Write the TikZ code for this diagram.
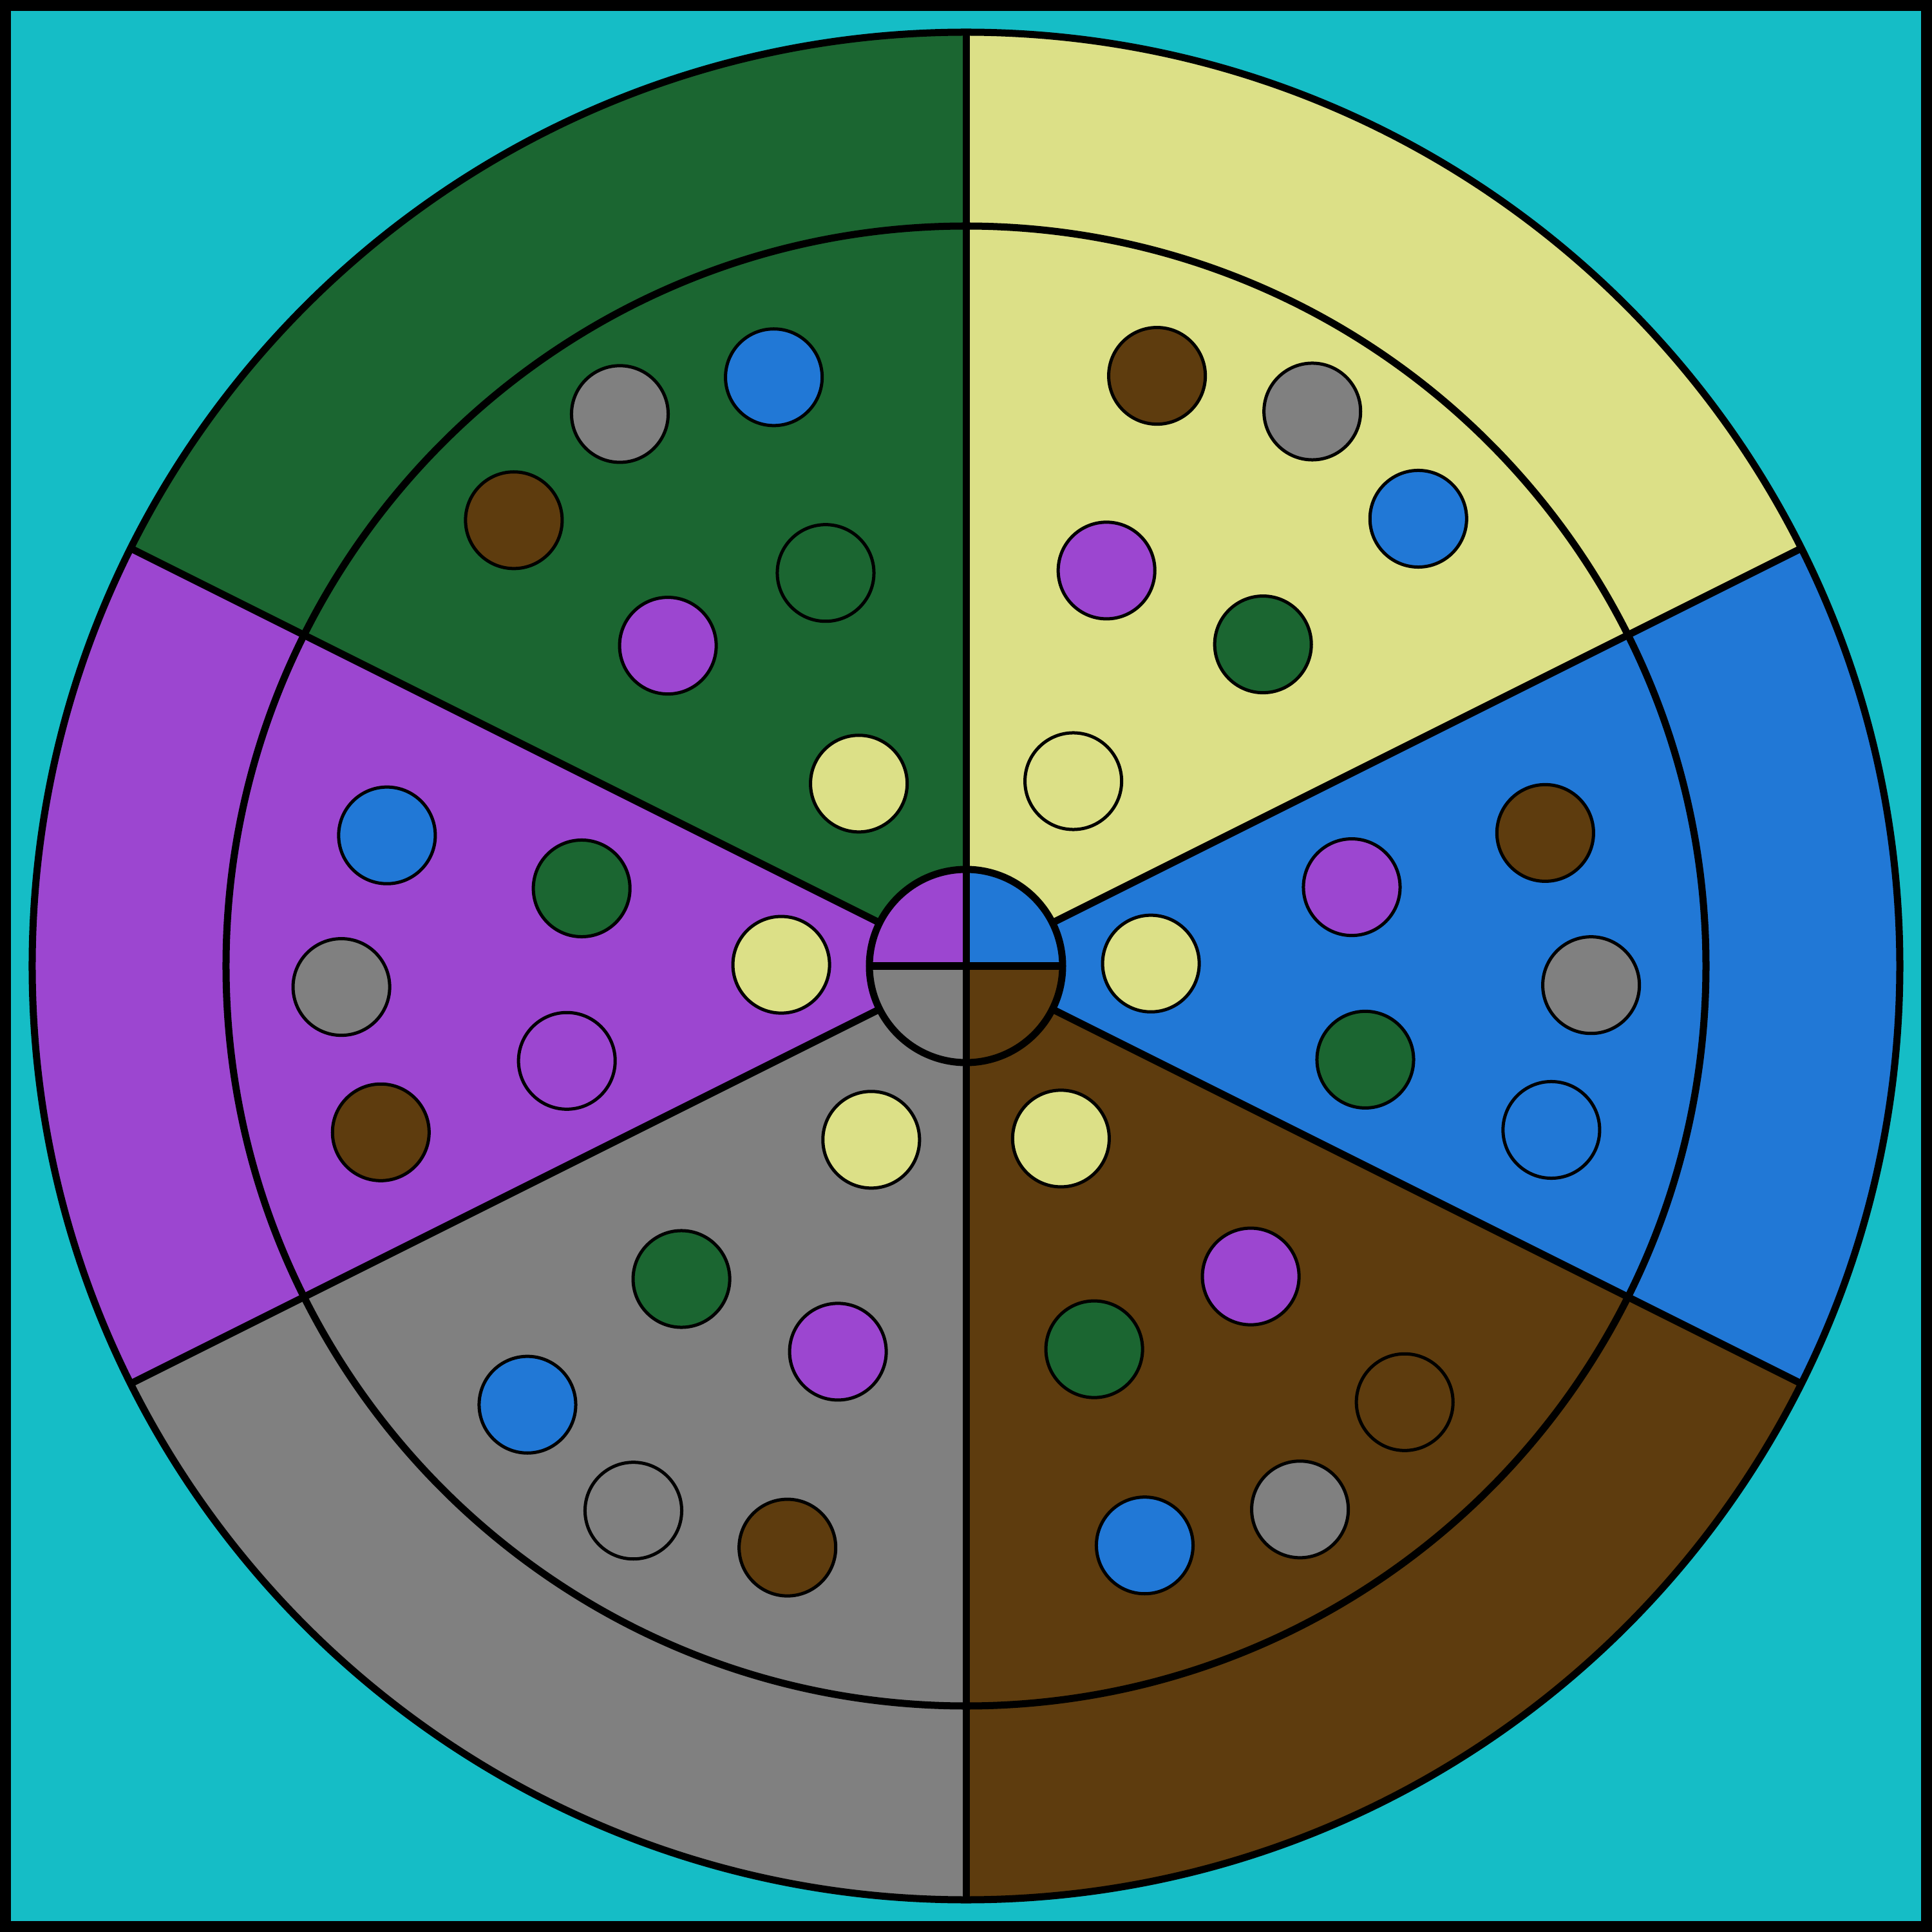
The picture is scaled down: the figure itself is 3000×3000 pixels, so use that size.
\documentclass[tikz,border=0pt]{standalone}
\definecolor{bgcyan}{RGB}{21,189,198}
\definecolor{cgreen}{RGB}{27,102,49}
\definecolor{cyellow}{RGB}{220,224,135}
\definecolor{cblue}{RGB}{33,120,214}
\definecolor{cpurple}{RGB}{156,70,208}
\definecolor{cgray}{RGB}{128,128,128}
\definecolor{cbrown}{RGB}{94,60,14}
\tikzset{
  thickline/.style={line width=0.11cm, draw=black},
  dot/.style={circle, draw=black, line width=0.05cm, minimum size=1.5cm, inner sep=0pt},
}
\begin{document}
\begin{tikzpicture}[x=0.01cm,y=0.01cm]
\useasboundingbox (-1500,-1500) rectangle (1500,1500);
\fill[black] (-1500,-1500) rectangle (1500,1500);
\fill[bgcyan] (-1483,-1483) rectangle (1483,1483);
\def\a{26.565}
% sectors
\fill[cblue] (0,0) -- (-\a:1450) arc[start angle=-\a, end angle=\a, radius=1450] -- cycle;
\fill[cyellow] (0,0) -- (\a:1450) arc[start angle=\a, end angle=90, radius=1450] -- cycle;
\fill[cgreen] (0,0) -- (90:1450) arc[start angle=90, end angle=180-\a, radius=1450] -- cycle;
\fill[cpurple] (0,0) -- (180-\a:1450) arc[start angle=180-\a, end angle=180+\a, radius=1450] -- cycle;
\fill[cgray] (0,0) -- (180+\a:1450) arc[start angle=180+\a, end angle=270, radius=1450] -- cycle;
\fill[cbrown] (0,0) -- (270:1450) arc[start angle=270, end angle=360-\a, radius=1450] -- cycle;
% rings
\draw[thickline] (0,0) circle[radius=1149];
\draw[thickline] (0,0) circle[radius=1450];
% dividers
\coordinate (top) at (90:1450);
\coordinate (bot) at (270:1450);
\draw[thickline] (top) -- (bot);
\foreach \ang in {\a, 180-\a, 180+\a, -\a} {
  \draw[thickline] (\ang:150) -- (\ang:1450);
}
% center hub
\fill[cpurple] (0,0) -- (90:150) arc[start angle=90, end angle=180, radius=150] -- cycle;
\fill[cblue] (0,0) -- (0:150) arc[start angle=0, end angle=90, radius=150] -- cycle;
\fill[cgray] (0,0) -- (180:150) arc[start angle=180, end angle=270, radius=150] -- cycle;
\fill[cbrown] (0,0) -- (270:150) arc[start angle=270, end angle=360, radius=150] -- cycle;
\draw[thickline] (0,0) circle[radius=150];
\draw[thickline] (180:150) -- (0:150);
\draw[thickline] (90:150) -- (270:150);
% dots: positions in image pixels, shifted to centre origin
\def\dx{-1498}
% green sector dots
\node[dot, fill=cblue]   (g1) at (1199.6+\dx, 1500-585.8) {};
\node[dot, fill=cgray]   (g2) at (960.5+\dx, 1500-642.9) {};
\node[dot, fill=cbrown]  (g3) at (795.9+\dx, 1500-807.8) {};
\node[dot, fill=cgreen]  (g4) at (1280.0+\dx, 1500-889.7) {};
\node[dot, fill=cpurple] (g5) at (1035.1+\dx, 1500-1002.6) {};
\node[dot, fill=cyellow] (g6) at (1331.6+\dx, 1500-1216.8) {};
% yellow sector dots
\node[dot, fill=cbrown]  (y1) at (1794.6+\dx, 1500-583.6) {};
\node[dot, fill=cgray]   (y2) at (2035.7+\dx, 1500-639.0) {};
\node[dot, fill=cblue]   (y3) at (2200.3+\dx, 1500-805.5) {};
\node[dot, fill=cpurple] (y4) at (1716.2+\dx, 1500-885.9) {};
\node[dot, fill=cgreen]  (y5) at (1959.2+\dx, 1500-1000.6) {};
\node[dot, fill=cyellow] (y6) at (1664.6+\dx, 1500-1213.0) {};
% blue sector dots
\node[dot, fill=cbrown]  (b1) at (2397.4+\dx, 1500-1293.4) {};
\node[dot, fill=cpurple] (b2) at (2097.0+\dx, 1500-1377.6) {};
\node[dot, fill=cgray]   (b3) at (2468.6+\dx, 1500-1529.7) {};
\node[dot, fill=cyellow] (b4) at (1785.1+\dx, 1500-1496.2) {};
\node[dot, fill=cgreen]  (b5) at (2118.0+\dx, 1500-1645.4) {};
\node[dot, fill=cblue]   (b6) at (2406.9+\dx, 1500-1754.5) {};
% purple sector dots
\node[dot, fill=cblue]   (p1) at (598.9+\dx, 1500-1297.2) {};
\node[dot, fill=cgreen]  (p2) at (901.2+\dx, 1500-1379.5) {};
\node[dot, fill=cgray]   (p3) at (528.1+\dx, 1500-1532.6) {};
\node[dot, fill=cyellow] (p4) at (1211.1+\dx, 1500-1498.1) {};
\node[dot, fill=cpurple] (p5) at (878.2+\dx, 1500-1647.3) {};
\node[dot, fill=cbrown]  (p6) at (589.3+\dx, 1500-1758.3) {};
% gray sector dots
\node[dot, fill=cyellow] (r1) at (1350.8+\dx, 1500-1769.8) {};
\node[dot, fill=cgreen]  (r2) at (1056.1+\dx, 1500-1986.0) {};
\node[dot, fill=cpurple] (r3) at (1299.1+\dx, 1500-2098.9) {};
\node[dot, fill=cblue]   (r4) at (817.0+\dx, 1500-2181.2) {};
\node[dot, fill=cgray]   (r5) at (981.5+\dx, 1500-2345.7) {};
\node[dot, fill=cbrown]  (r6) at (1220.7+\dx, 1500-2403.1) {};
% brown sector dots
\node[dot, fill=cyellow] (n1) at (1645.4+\dx, 1500-1767.9) {};
\node[dot, fill=cpurple] (n2) at (1940.1+\dx, 1500-1982.1) {};
\node[dot, fill=cgreen]  (n3) at (1697.1+\dx, 1500-2095.1) {};
\node[dot, fill=cbrown]  (n4) at (2179.2+\dx, 1500-2177.3) {};
\node[dot, fill=cgray]   (n5) at (2016.6+\dx, 1500-2343.8) {};
\node[dot, fill=cblue]   (n6) at (1775.5+\dx, 1500-2399.7) {};
\end{tikzpicture}
\end{document}
